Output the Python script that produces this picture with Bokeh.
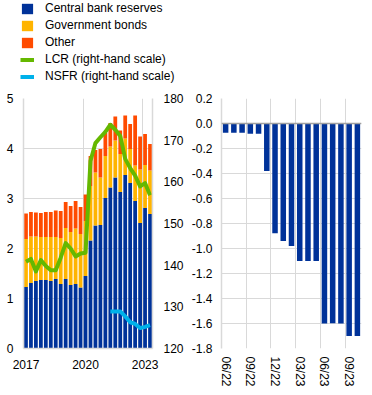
from bokeh.plotting import figure
from bokeh.models import (Range1d, LinearAxis, FixedTicker, Legend, LegendItem,
                          Span, ColumnDataSource, NumeralTickFormatter)
from bokeh.layouts import row, column
from bokeh.embed import file_html
from bokeh.resources import INLINE

# ---------------- data ----------------
quarters = ["2017Q1", "2017Q2", "2017Q3", "2017Q4", "2018Q1", "2018Q2", "2018Q3", "2018Q4",
            "2019Q1", "2019Q2", "2019Q3", "2019Q4", "2020Q1", "2020Q2", "2020Q3", "2020Q4",
            "2021Q1", "2021Q2", "2021Q3", "2021Q4", "2022Q1", "2022Q2", "2022Q3", "2022Q4",
            "2023Q1", "2023Q2"]
central_bank = [1.23, 1.31, 1.35, 1.37, 1.37, 1.35, 1.39, 1.29, 1.39, 1.27, 1.29, 1.22, 1.45,
                2.16, 2.46, 2.47, 3.01, 3.22, 3.42, 3.13, 3.47, 3.31, 2.95, 2.51, 2.81, 2.69]
gov_bonds = [0.96, 0.93, 0.89, 0.86, 0.86, 0.88, 0.84, 0.92, 1.02, 1.06, 1.11, 1.07, 1.10,
             1.09, 1.06, 0.95, 0.84, 0.82, 0.74, 0.76, 0.73, 0.68, 0.71, 1.07, 0.86, 0.87]
other = [0.51, 0.49, 0.48, 0.48, 0.50, 0.50, 0.53, 0.54, 0.52, 0.52, 0.55, 0.54, 0.53,
         0.60, 0.45, 0.57, 0.46, 0.47, 0.48, 0.47, 0.46, 0.50, 1.00, 0.66, 0.62, 0.53]
lcr = [140.8, 141.5, 138.5, 141.2, 139.8, 138.8, 138.8, 141.8, 145.3, 144.0, 142.1, 142.8, 143.0,
       165.0, 169.3, 170.7, 172.0, 173.7, 172.5, 171.0, 165.5, 163.3, 161.5, 158.9, 159.7, 156.8]
nan = float("nan")
nsfr = [nan] * 17 + [128.9, 128.9, 128.9, 127.7, 126.3, 125.9, 124.9, 125.2, 125.6]
year_ticks = ["2017", "2020", "2023"]
left_ticks = [0, 1, 2, 3, 4, 5]
right_ticks = [120, 130, 140, 150, 160, 170, 180]

months = ["06/22", "07/22", "08/22", "09/22", "10/22", "11/22", "12/22", "01/23", "02/23",
          "03/23", "04/23", "05/23", "06/23", "07/23", "08/23", "09/23", "10/23"]
change = [-0.074, -0.074, -0.074, -0.082, -0.082, -0.379, -0.877, -0.94, -0.98, -1.10,
          -1.10, -1.10, -1.60, -1.597, -1.60, -1.70, -1.70]
change_ticks = [0.2, 0.0, -0.2, -0.4, -0.6, -0.8, -1.0, -1.2, -1.4, -1.6, -1.8]

series_labels = ["Central bank reserves", "Government bonds", "Other",
                 "LCR (right-hand scale)", "NSFR (right-hand scale)"]

# ---------------- style ----------------
FONT = "Liberation Sans"
BLUE, YELLOW, ORANGE = "#003299", "#FFB400", "#FF4B00"
GREEN, CYAN = "#65B800", "#00B1EA"
GRID = "#d9d9d9"


def style_axis(ax, standoff):
    ax.axis_line_color = GRID
    ax.axis_line_width = 1.5
    ax.major_tick_line_color = None
    ax.minor_tick_line_color = None
    ax.major_tick_out = 0
    ax.major_tick_in = 0
    ax.major_label_standoff = standoff
    ax.major_label_text_font = FONT
    ax.major_label_text_font_size = "12px"
    ax.major_label_text_color = "#000000"


xq = [int(s[:4]) + (int(s[5]) - 1) * 0.25 + 0.125 for s in quarters]
src = ColumnDataSource(dict(x=xq, cbr=central_bank, gov=gov_bonds, oth=other,
                            lcr=lcr, nsfr=nsfr))

# ---------------- legend strip ----------------
lg = figure(width=372, height=90, x_axis_type=None, y_axis_type=None,
            output_backend="svg", toolbar_location=None, min_border=0,
            x_range=Range1d(0, 1), y_range=Range1d(0, 1))
lg.outline_line_color = None
lg.xgrid.visible = False
lg.ygrid.visible = False
lg_bars = lg.vbar_stack(["cbr", "gov", "oth"], x="x", width=0.19,
                        color=[BLUE, YELLOW, ORANGE], line_color=None, source=src)
lg_lcr = lg.line("x", "lcr", source=src, color=GREEN, line_width=4)
lg_nsfr = lg.line("x", "nsfr", source=src, color=CYAN, line_width=4)
lg_renderers = list(lg_bars) + [lg_lcr, lg_nsfr]
for r in lg_renderers:
    r.visible = False

legend = Legend(items=[LegendItem(label=lab, renderers=[r], index=0)
                       for lab, r in zip(series_labels, lg_renderers)],
                location=(20, 7), orientation="vertical")
legend.padding = 0
legend.margin = 0
legend.spacing = 3
legend.glyph_width = 14
legend.glyph_height = 13
legend.label_height = 13
legend.label_standoff = 11
legend.label_text_font = FONT
legend.label_text_font_size = "12px"
legend.label_text_color = "#000000"
legend.border_line_color = None
legend.background_fill_alpha = 0
legend.inactive_fill_alpha = 0
lg.add_layout(legend, "center")

# ---------------- left chart ----------------
p = figure(width=188, height=305, x_range=Range1d(2017, 2023.5), y_range=Range1d(0, 5),
           output_backend="svg", toolbar_location=None,
           min_border_left=23, min_border_right=36, min_border_top=8, min_border_bottom=47)
p.outline_line_color = None
p.extra_y_ranges = {"lcr": Range1d(120, 180)}

p.vbar_stack(["cbr", "gov", "oth"], x="x", width=0.19, color=[BLUE, YELLOW, ORANGE],
             line_color=None, source=src)
p.line("x", "lcr", source=src, y_range_name="lcr", color=GREEN, line_width=4,
       line_join="round")
p.line("x", "nsfr", source=src, y_range_name="lcr", color=CYAN, line_width=4,
       line_join="round")

p.xaxis.ticker = FixedTicker(ticks=[int(t) + 0.125 for t in year_ticks])
p.xaxis.major_label_overrides = {int(t) + 0.125: t for t in year_ticks}
p.yaxis.ticker = FixedTicker(ticks=left_ticks)
style_axis(p.xaxis[0], 11)
style_axis(p.yaxis[0], 10)

ax_r = LinearAxis(y_range_name="lcr", ticker=FixedTicker(ticks=right_ticks))
style_axis(ax_r, 11)
p.add_layout(ax_r, "right")

p.xgrid.ticker = FixedTicker(ticks=[int(t) for t in year_ticks[1:]])
p.ygrid.ticker = FixedTicker(ticks=left_ticks[1:])
p.xgrid.grid_line_color = GRID
p.ygrid.grid_line_color = GRID

# ---------------- right chart ----------------
q = figure(width=184, height=305, x_range=Range1d(-0.5, len(months) - 0.5),
           y_range=Range1d(-1.8, 0.2), output_backend="svg", toolbar_location=None,
           min_border_left=33, min_border_right=11, min_border_top=8, min_border_bottom=45)
q.outline_line_color = None
q.vbar(x=list(range(len(months))), top=change, bottom=0, width=0.67, color=BLUE,
       line_color=None)

q.xaxis.ticker = FixedTicker(ticks=list(range(0, len(months), 3)))
q.xaxis.major_label_overrides = {i: months[i] for i in range(0, len(months), 3)}
q.xaxis.major_label_orientation = "vertical"
q.yaxis.ticker = FixedTicker(ticks=change_ticks)
q.yaxis.formatter = NumeralTickFormatter(format="0.0")
style_axis(q.xaxis[0], 8)
style_axis(q.yaxis[0], 9)
q.xaxis.axis_line_color = None
q.xgrid.ticker = FixedTicker(ticks=[i - 0.5 for i in range(3, len(months), 3)])
q.ygrid.ticker = FixedTicker(ticks=change_ticks)
q.xgrid.grid_line_color = GRID
q.ygrid.grid_line_color = GRID
q.add_layout(Span(location=0, dimension="width", line_color="#a0a0a0", line_width=1.5))

layout = column(lg, row(p, q))

open("out.html", "w").write(file_html(layout, INLINE))
